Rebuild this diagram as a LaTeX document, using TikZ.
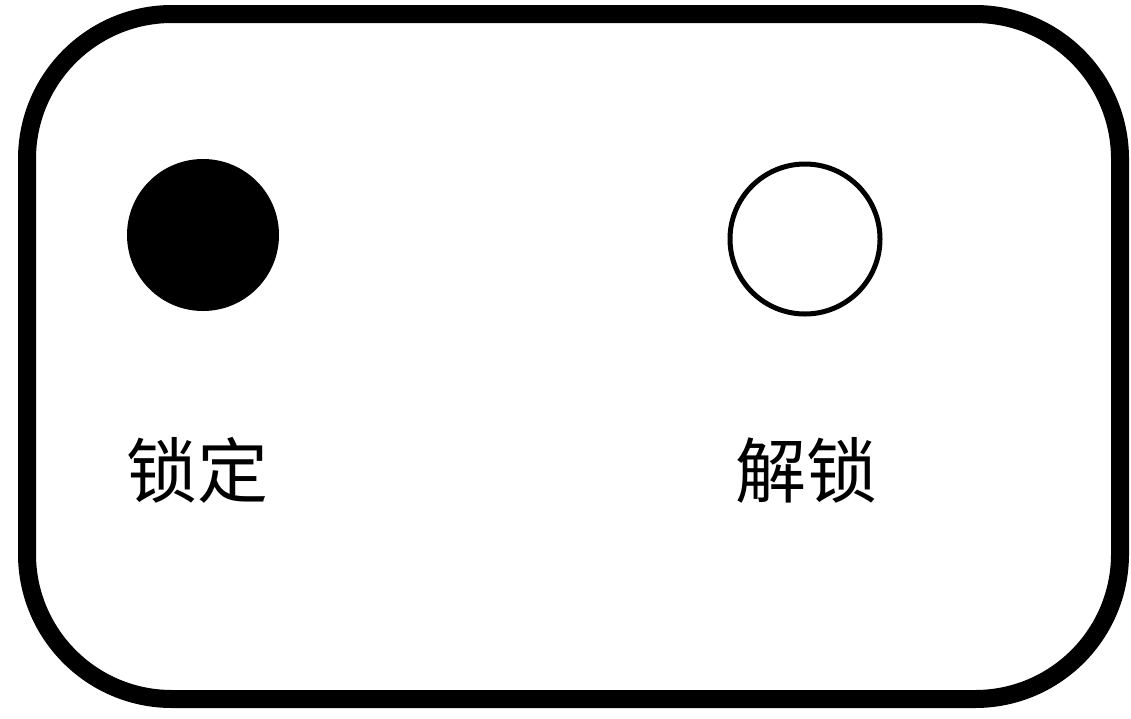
\documentclass[tikz,border=0pt]{standalone}
\usepackage{fontspec}
\newfontfamily\cjk{Noto Sans CJK SC}
\tikzset{
  frame/.style={draw=black, line width=18pt, rounded corners=145pt},
  lamp/.style={circle, minimum size=152pt, inner sep=0pt},
  lampon/.style={lamp, fill=black},
  lampoff/.style={lamp, draw=black, line width=5pt, minimum size=150pt},
  lbl/.style={font=\cjk\fontsize{71}{71}\selectfont, inner sep=0pt}
}
\begin{document}
\begin{tikzpicture}[x=1pt,y=-1pt]
\useasboundingbox (0,0) rectangle (1131,718);
\fill[white] (0,0) rectangle (1131,718);
\draw[frame] (27,14) rectangle (1120,699);
\node[lampon] (lock) at (203,235) {};
\node[lampoff] (unlock) at (805,239) {};
\node[lbl] (locktxt) at (197,470) {锁定};
\node[lbl] (unlocktxt) at (806,470) {解锁};
\end{tikzpicture}
\end{document}
